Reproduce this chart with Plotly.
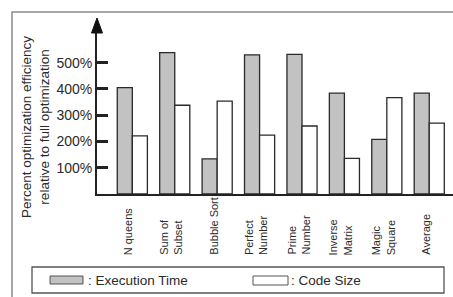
import plotly.graph_objects as go

categories = ["N queens", "Sum of<br>Subset", "Bubble Sort", "Perfect<br>Number", "Prime<br>Number",
              "Inverse<br>Matrix", "Magic<br>Square", "Average"]
execution_time = [405, 538, 134, 530, 532, 384, 208, 384]
code_size = [221, 338, 354, 224, 259, 136, 367, 270]
series_names = ["Execution Time", "Code Size"]
y_tick_vals = [100, 200, 300, 400, 500]
y_tick_text = ["100%", "200%", "300%", "400%", "500%"]
y_title = "Percent optimization efficiency<br>relative to full optimization"

W, H = 453, 297
L, R, T, B = 97, 453, 22, 194
FONT = "Liberation Sans, Arial, sans-serif"
INK = "#2a2a2a"


def px(xp):
    return (xp - L) / (R - L)


def py(yp):
    return (B - yp) / (B - T)


x_idx = list(range(len(categories)))

fig = go.Figure()
fig.add_trace(go.Bar(x=x_idx, y=execution_time, name=series_names[0],
                     marker=dict(color="#c2c2c2", line=dict(color=INK, width=1.3))))
fig.add_trace(go.Bar(x=x_idx, y=code_size, name=series_names[1],
                     marker=dict(color="white", line=dict(color=INK, width=1.3))))

annotations = []
for i, c in enumerate(categories):
    annotations.append(dict(x=i, xref="x", y=py(257), yref="paper", text=c, showarrow=False,
                            textangle=-90, xanchor="center", yanchor="bottom", align="left",
                            xshift=-4, font=dict(family=FONT, size=11, color=INK)))
annotations.append(dict(x=px(35), xref="paper", y=py(127), yref="paper", text=y_title,
                        showarrow=False, textangle=-90, xanchor="center", yanchor="middle",
                        font=dict(family=FONT, size=13.5, color=INK)))
annotations.append(dict(x=px(86), xref="paper", y=py(280), yref="paper", text=": " + series_names[0],
                        showarrow=False, xanchor="left", yanchor="middle",
                        font=dict(family=FONT, size=13.5, color=INK)))
annotations.append(dict(x=px(289), xref="paper", y=py(280), yref="paper", text=": " + series_names[1],
                        showarrow=False, xanchor="left", yanchor="middle",
                        font=dict(family=FONT, size=13.5, color=INK)))

shapes = [
    # outer frame
    dict(type="rect", xref="paper", yref="paper", x0=px(12), y0=py(12), x1=px(470), y1=py(310),
         line=dict(color="#8a8a8a", width=1.5)),
    # legend box
    dict(type="rect", xref="paper", yref="paper", x0=px(32), y0=py(267), x1=px(444), y1=py(293),
         line=dict(color="#555", width=1.3)),
    # legend swatches
    dict(type="rect", xref="paper", yref="paper", x0=px(50), y0=py(276), x1=px(83), y1=py(284),
         fillcolor="#c2c2c2", line=dict(color="#555", width=1)),
    dict(type="rect", xref="paper", yref="paper", x0=px(253), y0=py(276), x1=px(288), y1=py(285),
         fillcolor="white", line=dict(color="#555", width=1)),
    # axis arrow head
    dict(type="path", xref="paper", yref="paper",
         path=f"M {px(97)},{py(18)} L {px(91.5)},{py(33)} L {px(102.5)},{py(33)} Z",
         fillcolor="#111", line=dict(color="#111", width=1)),
]

fig.update_layout(
    width=W, height=H,
    margin=dict(l=L, r=W - R, t=T, b=H - B, pad=0),
    paper_bgcolor="white", plot_bgcolor="white",
    barmode="group", bargap=0.29, bargroupgap=0,
    showlegend=False,
    font=dict(family=FONT, color=INK),
    annotations=annotations, shapes=shapes,
    xaxis=dict(range=[-0.833, 7.56], showline=True, linewidth=2, linecolor="#222",
               showticklabels=False, ticks="", showgrid=False, zeroline=False, fixedrange=True),
    yaxis=dict(range=[0, 655], showline=True, linewidth=2, linecolor="#222",
               tickvals=y_tick_vals, ticktext=y_tick_text, ticks="inside", ticklen=11,
               tickwidth=3, tickcolor="#222", showgrid=False, zeroline=False,
               tickfont=dict(family=FONT, size=14, color=INK), fixedrange=True),
)

fig.write_html("out.html", config={"displayModeBar": False},
               post_script="document.body.style.margin='0';document.body.style.overflow='hidden';")
